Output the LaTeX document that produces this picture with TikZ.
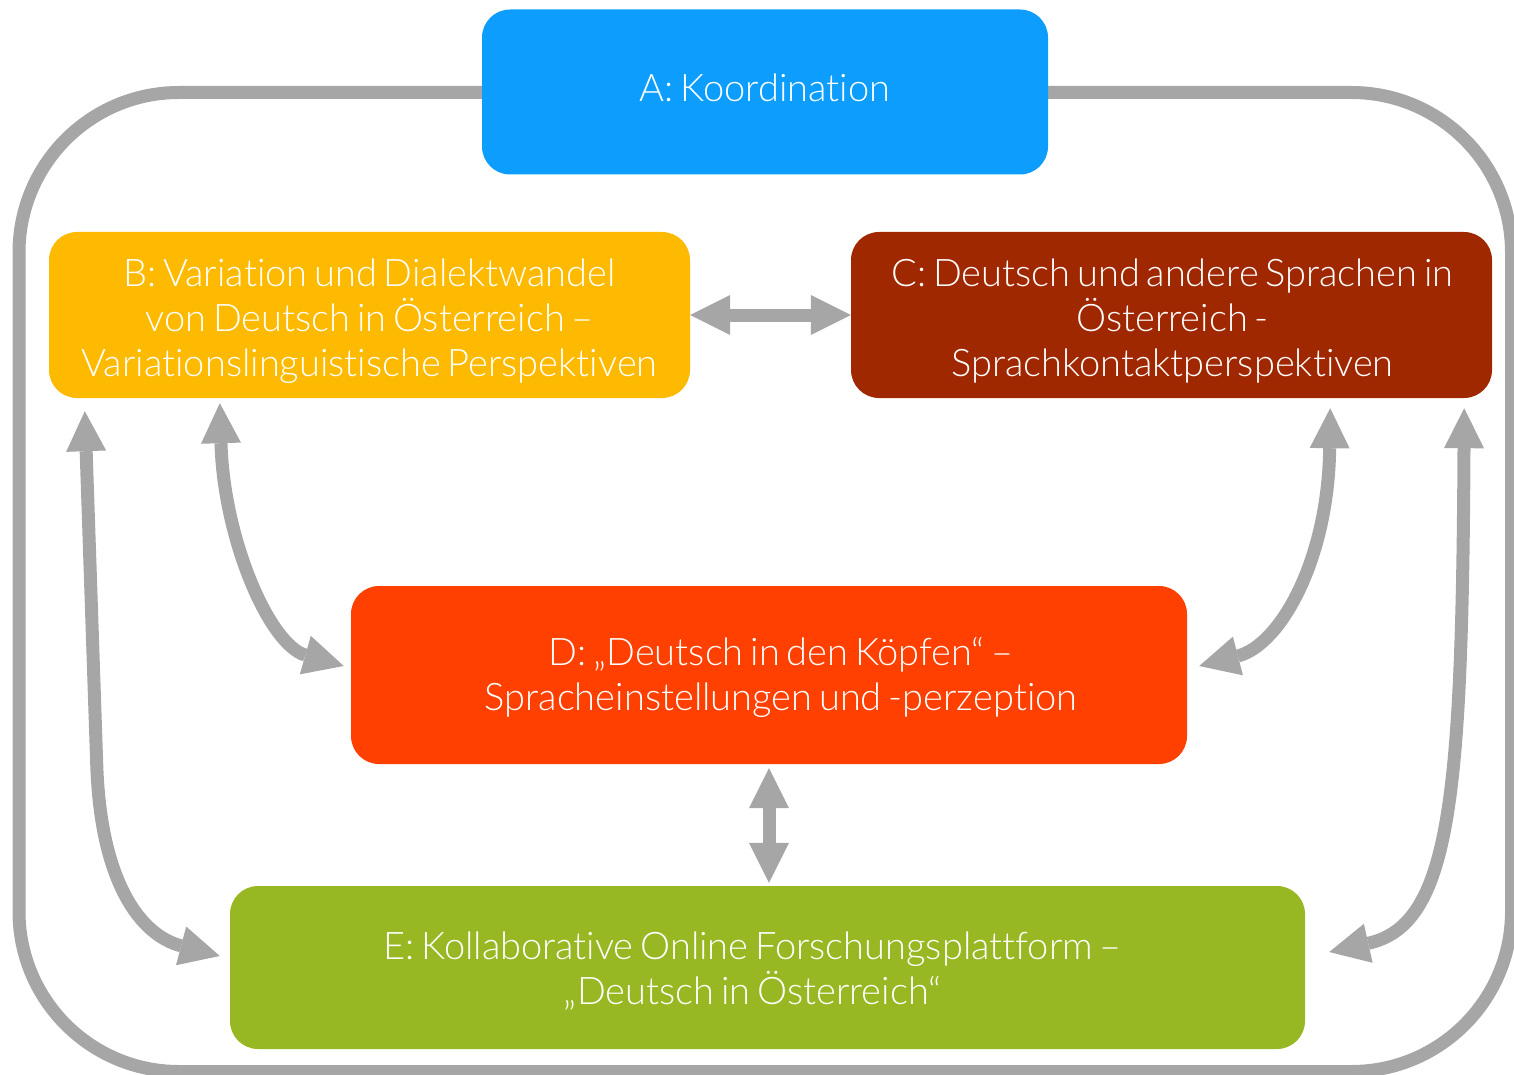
\documentclass[tikz,border=0pt]{standalone}
\usepackage{fontspec}
\setmainfont{Lato Light}[Ligatures={TeX,NoCommon}]
\usetikzlibrary{arrows.meta}

\definecolor{framegray}{RGB}{166,166,166}
\definecolor{boxA}{RGB}{13,158,253}
\definecolor{boxB}{RGB}{254,186,0}
\definecolor{boxC}{RGB}{160,40,0}
\definecolor{boxD}{RGB}{255,64,0}
\definecolor{boxE}{RGB}{151,184,34}

\newcommand{\labelfont}{\fontsize{38}{45}\selectfont
  \spaceskip=\dimexpr\fontdimen2\font-3.6pt\relax}

\begin{document}
\begin{tikzpicture}[x=1pt,y=-1pt,
  box/.style={rectangle, rounded corners=28pt, inner sep=0pt},
  boxtext/.style={inner sep=0pt, text=white, align=center, font=\labelfont},
  link/.style={draw=framegray, line width=13pt, {Triangle[length=40pt,width=40pt,line width=0pt]}-{Triangle[length=40pt,width=40pt,line width=0pt]}},
  frameline/.style={draw=framegray, line width=13pt, rounded corners=160pt}
]
\useasboundingbox (0,0) rectangle (1514,1075);

% surrounding frame
\draw[frameline] (19,92.5) rectangle (1511.5,1071.5);

% project parts
\node[box, fill=boxA, minimum width=566pt, minimum height=165pt] (A) at (765,92) {};
\node[boxtext] (Atext) at ([shift={(0,-4)}]A.center) {A: Koordination};

\node[box, fill=boxB, minimum width=641pt, minimum height=166pt] (B) at (369.5,315) {};
\node[boxtext] (Btext) at ([shift={(0,6)}]B.center)
  {B: Variation und Dialektwandel\\von Deutsch in Österreich –\\Variationslinguistische Perspektiven};

\node[box, fill=boxC, minimum width=641pt, minimum height=166pt] (C) at (1171.5,315) {};
\node[boxtext] (Ctext) at ([shift={(1,6)}]C.center)
  {C: Deutsch und andere Sprachen in\\Österreich -\\Sprachkontaktperspektiven};

\node[box, fill=boxD, minimum width=836pt, minimum height=178pt] (D) at (769,675) {};
\node[boxtext] (Dtext) at ([shift={(12,2)}]D.center)
  {D: „Deutsch in den Köpfen“ –\\Spracheinstellungen und -perzeption};

\node[box, fill=boxE, minimum width=1075pt, minimum height=163pt] (E) at (767.5,967.5) {};
\node[boxtext] (Etext) at ([shift={(-15,4)}]E.center)
  {E: Kollaborative Online Forschungsplattform –\\„Deutsch in Österreich“};

% connections
\draw[link] (B.east) -- (C.west);
\draw[link] ([shift={(171,5)}]B.south west)
  .. controls +(4,137) and +(-74,-21) .. ([shift={(-7,-9)}]D.west);
\draw[link] ([shift={(-162,10)}]C.south east)
  .. controls +(-2,152) and +(81,-21) .. ([shift={(12,-9)}]D.east);
\draw[link] ([shift={(36,13)}]B.south west) -- ++(12,355)
  .. controls +(4,115) and +(-80,-21) .. ([shift={(-10,-11.5)}]E.west);
\draw[link] ([shift={(-28,10)}]C.south east)
  .. controls +(-2,392) and +(121,-27) .. ([shift={(24,-15.5)}]E.east);
\draw[link] ([shift={(0,4)}]D.south) -- ([shift={(0,-3)}]D.south |- E.north);
\end{tikzpicture}
\end{document}
